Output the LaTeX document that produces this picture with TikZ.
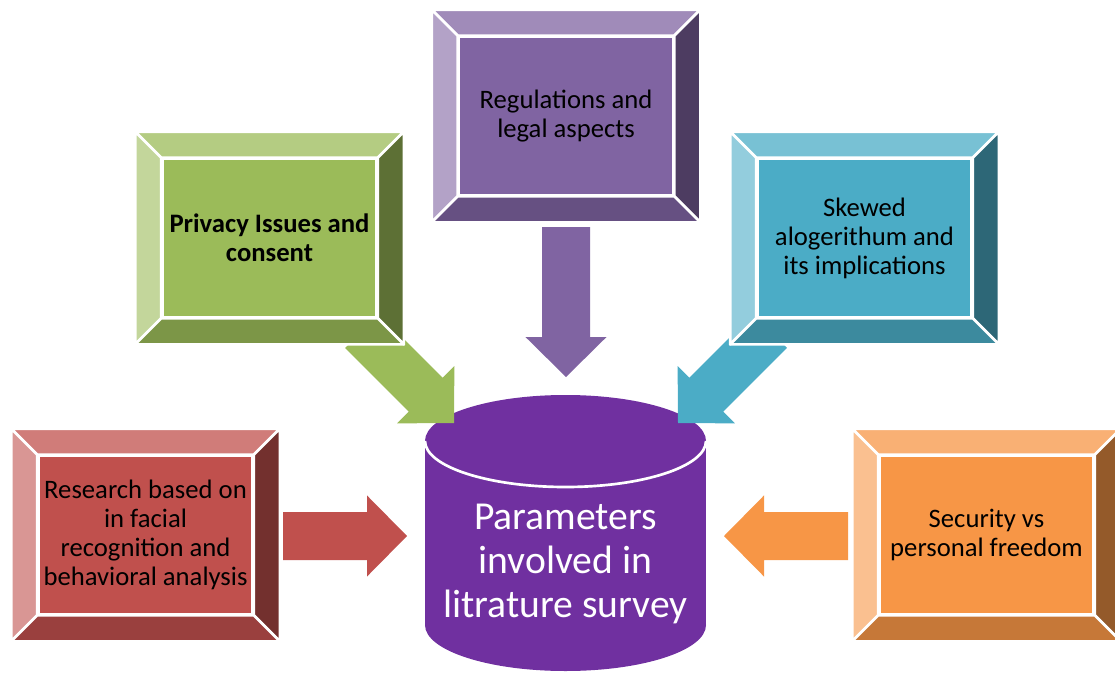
\documentclass[tikz,border=0pt]{standalone}
\usepackage{fontspec}
\setmainfont{Carlito}
\usetikzlibrary{calc}

\definecolor{dbpurple}{HTML}{7030A0}
\definecolor{regface}{HTML}{8064A2}
\definecolor{privface}{HTML}{9BBB59}
\definecolor{skewface}{HTML}{4BACC6}
\definecolor{resface}{HTML}{C0504D}
\definecolor{secface}{HTML}{F79646}

% frame of four bevels round a face node: #1 node, #2 top, #3 left, #4 right, #5 bottom
\newcommand{\bevelbox}[5]{%
  \filldraw[bevel, fill=#2] ([shift={(-26,-26)}]#1.north west) -- ([shift={(26,-26)}]#1.north east) -- (#1.north east) -- (#1.north west) -- cycle;
  \filldraw[bevel, fill=#3] ([shift={(-26,-26)}]#1.north west) -- (#1.north west) -- (#1.south west) -- ([shift={(-26,26)}]#1.south west) -- cycle;
  \filldraw[bevel, fill=#4] ([shift={(26,-26)}]#1.north east) -- ([shift={(26,26)}]#1.south east) -- (#1.south east) -- (#1.north east) -- cycle;
  \filldraw[bevel, fill=#5] ([shift={(-26,26)}]#1.south west) -- (#1.south west) -- (#1.south east) -- ([shift={(26,26)}]#1.south east) -- cycle;
}

% block arrow from #2 to #3
\newcommand{\fatarrow}[3]{%
  \coordinate (hb) at ($(#3)!30pt!(#2)$);
  \fill[#1] ($(#2)!18pt!90:(#3)$) -- ($(hb)!18pt!90:(#3)$) -- ($(hb)!30.4pt!90:(#3)$) -- (#3)
    -- ($(hb)!30.4pt!-90:(#3)$) -- ($(hb)!18pt!-90:(#3)$) -- ($(#2)!18pt!-90:(#3)$) -- cycle;
}

\begin{document}
\begin{tikzpicture}[x=0.75pt, y=-0.75pt,
    face/.style = {minimum width=160.5pt, minimum height=118.5pt, inner sep=0pt, align=center,
      draw=white, line width=2pt, font=\fontsize{20}{21.8}\selectfont},
    bevel/.style = {draw=white, line width=2pt, line join=round},
    dbtext/.style = {text=white, align=center, font=\fontsize{29.7}{33}\selectfont}]
    \useasboundingbox (0,0) rectangle (1115,675);

    % database in the middle
    \fill[dbpurple] (425,441) rectangle (706,625);
    \fill[dbpurple] (565.5,441) ellipse [x radius=140.5, y radius=46];
    \fill[dbpurple] (565.5,625) ellipse [x radius=140.5, y radius=46];
    \draw[white, line width=2pt] (706,441) arc [start angle=0, end angle=180, x radius=140.5, y radius=46];
    \node[dbtext] (db) at (565.5,564) {Parameters\\involved in\\litrature survey};

    % arrow ends
    \coordinate (reg_t) at (566,227);  \coordinate (reg_h) at (566,377);
    \coordinate (priv_t) at (362,331); \coordinate (priv_h) at (454,423);
    \coordinate (skew_t) at (770,331); \coordinate (skew_h) at (678,423);
    \coordinate (res_t) at (283,536);  \coordinate (res_h) at (407,536);
    \coordinate (sec_t) at (848,536);  \coordinate (sec_h) at (724,536);

    \fatarrow{regface}{reg_t}{reg_h}
    \fatarrow{privface}{priv_t}{priv_h}
    \fatarrow{skewface}{skew_t}{skew_h}
    \fatarrow{resface}{res_t}{res_h}
    \fatarrow{secface}{sec_t}{sec_h}

    % the five boxes
    \node[face, fill=regface] (reg) at (566,116) {Regulations and\\legal aspects};
    \bevelbox{reg}{regface!75!white}{regface!60!white}{regface!60!black}{regface!80!black}
    \node[face, fill=privface, font=\fontsize{20}{21.8}\selectfont\bfseries] (priv) at (269.5,238) {Privacy Issues and\\consent};
    \bevelbox{priv}{privface!75!white}{privface!60!white}{privface!60!black}{privface!80!black}
    \node[face, fill=skewface] (skew) at (864.5,238) {Skewed\\alogerithum and\\its implications};
    \bevelbox{skew}{skewface!75!white}{skewface!60!white}{skewface!60!black}{skewface!80!black}
    \node[face, fill=resface] (res) at (145.5,535) {Research based on\\in facial\\recognition and\\behavioral analysis};
    \bevelbox{res}{resface!75!white}{resface!60!white}{resface!60!black}{resface!80!black}
    \node[face, fill=secface] (sec) at (986.5,535) {Security vs\\personal freedom};
    \bevelbox{sec}{secface!75!white}{secface!60!white}{secface!60!black}{secface!80!black}
\end{tikzpicture}
\end{document}
